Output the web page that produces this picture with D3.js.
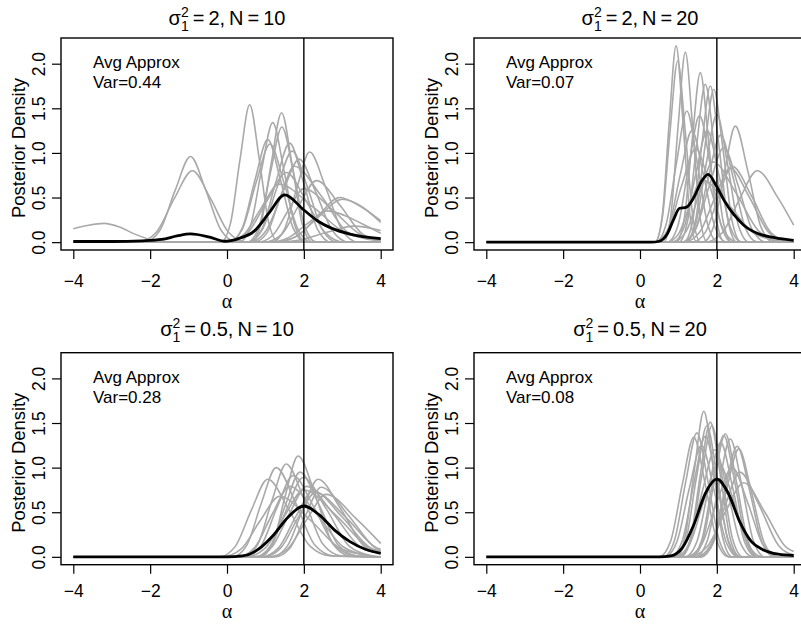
<!DOCTYPE html>
<html>
<head>
<meta charset="utf-8">
<script src="https://cdn.jsdelivr.net/npm/d3@7"></script>
<style>
  body { margin: 0; background: #fff; }
  svg { display: block; }
  text { font-family: "Liberation Sans", Arial, Helvetica, sans-serif; fill: #000; }
</style>
</head>
<body>
<div id="chart"></div>
<script>
// ---- data ----
const xTicks = [-4, -2, 0, 2, 4];
const yTicks = [0, 0.5, 1, 1.5, 2];
const trueAlpha = 2;

const panelSigma = ['2', '2', '0.5', '0.5'];
const panelN = ['10', '20', '10', '20'];
const avgVar = ['0.44', '0.07', '0.28', '0.08'];

// individual posterior approximations (gray), [alpha, density]
const grayCurvesA = [
  [[-4,0.15],[-3.6,0.19],[-3.2,0.21],[-2.8,0.17],[-2.4,0.09],[-2.0,0.03],[-1.6,0.005],[-1.2,0],[4,0]],
  [[-4,0],[-2.15,0],[-1.75,0.13],[-1.35,0.58],[-0.95,0.96],[-0.55,0.58],[-0.15,0.13],[0.25,0],[4,0]],
  [[-4,0],[-2.31,0],[-1.84,0.11],[-1.37,0.49],[-0.9,0.8],[-0.43,0.49],[0.04,0.11],[0.51,0],[4,0]],
  [[-4,0],[-0.16,0],[0.09,0.21],[0.34,0.93],[0.59,1.54],[0.84,0.93],[1.09,0.21],[1.34,0],[4,0]],
  [[-4,0],[0.07,0],[0.4,0.16],[0.73,0.7],[1.06,1.15],[1.39,0.7],[1.72,0.16],[2.05,0],[4,0]],
  [[-4,0],[0.04,0],[0.4,0.15],[0.76,0.67],[1.12,1.1],[1.48,0.67],[1.84,0.15],[2.2,0],[4,0]],
  [[-4,0],[0.32,0],[0.61,0.18],[0.9,0.81],[1.19,1.34],[1.48,0.81],[1.77,0.18],[2.06,0],[4,0]],
  [[-4,0],[0.61,0],[0.88,0.2],[1.15,0.88],[1.42,1.45],[1.69,0.88],[1.96,0.2],[2.23,0],[4,0]],
  [[-4,0],[0.53,0],[0.83,0.17],[1.13,0.78],[1.43,1.29],[1.73,0.78],[2.03,0.17],[2.33,0],[4,0]],
  [[-4,0],[0.55,0],[0.91,0.15],[1.27,0.67],[1.63,1.11],[1.99,0.67],[2.35,0.15],[2.71,0],[4,0]],
  [[-4,0],[0.53,0],[0.92,0.14],[1.31,0.62],[1.7,1.02],[2.09,0.62],[2.48,0.14],[2.87,0],[4,0]],
  [[-4,0],[0.59,0],[1.02,0.13],[1.45,0.56],[1.88,0.93],[2.31,0.56],[2.74,0.13],[3.17,0],[4,0]],
  [[-4,0],[0.05,0],[0.55,0.11],[1.05,0.47],[1.55,0.78],[2.05,0.47],[2.55,0.11],[3.05,0],[4,0]],
  [[-4,0],[1.16,0],[1.49,0.14],[1.82,0.61],[2.15,1.01],[2.57,0.61],[2.99,0.14],[3.41,0],[4,0]],
  [[-4,0],[0.98,0],[1.43,0.09],[1.88,0.42],[2.33,0.69],[2.93,0.42],[3.53,0.09],[4,0.02]],
  [[-4,0],[1.28,0],[1.83,0.07],[2.38,0.3],[2.93,0.5],[3.4,0.42],[4,0.24]],
  [[-4,0],[1.2,0],[1.8,0.065],[2.4,0.29],[3.0,0.48],[3.5,0.4],[4,0.22]],
  [[-4,0],[1.2,0],[1.9,0.025],[2.6,0.11],[3.3,0.18],[4,0.13]],
  [[-4,0],[0.7,0],[1.05,0.11],[1.4,0.52],[1.75,0.85],[2.45,0.52],[3.15,0.11],[4,0.01]],
  [[-4,0],[0,0],[0.45,0.09],[0.9,0.39],[1.35,0.65],[2.25,0.39],[3.15,0.09],[4,0.03]],
  [[-4,0],[0.8,0],[1.2,0.08],[1.6,0.36],[2.0,0.6],[2.75,0.36],[3.5,0.08],[4,0.03]],
  [[-4,0],[1.1,0],[1.6,0.05],[2.1,0.21],[2.6,0.35],[3.5,0.21],[4,0.1]]
];
const avgCurveA = [[-4,0.007],[-3,0.007],[-2.2,0.015],[-1.7,0.03],[-1.3,0.07],[-0.95,0.093],[-0.45,0.056],
  [-0.05,0.01],[0.3,0.04],[0.7,0.12],[1.1,0.33],[1.5,0.53],[2,0.36],[2.35,0.24],[2.7,0.16],[3.2,0.09],[4,0.04]];

const grayCurvesB = [
  [[-4,0],[0.4,0],[0.58,0.3],[0.76,1.34],[0.94,2.2],[1.12,1.34],[1.3,0.3],[1.48,0],[4,0]],
  [[-4,0],[0.38,0],[0.58,0.27],[0.78,1.23],[0.98,2.03],[1.18,1.23],[1.38,0.27],[1.58,0],[4,0]],
  [[-4,0],[0.61,0],[0.8,0.29],[0.99,1.29],[1.18,2.13],[1.37,1.29],[1.56,0.29],[1.75,0],[4,0]],
  [[-4,0],[0.94,0],[1.15,0.26],[1.36,1.15],[1.57,1.9],[1.78,1.15],[1.99,0.26],[2.2,0],[4,0]],
  [[-4,0],[1.01,0],[1.24,0.24],[1.47,1.07],[1.7,1.77],[1.93,1.07],[2.16,0.24],[2.39,0],[4,0]],
  [[-4,0],[1.14,0],[1.37,0.24],[1.6,1.06],[1.83,1.75],[2.06,1.06],[2.29,0.24],[2.52,0],[4,0]],
  [[-4,0],[1.2,0],[1.44,0.23],[1.68,1.04],[1.92,1.71],[2.16,1.04],[2.4,0.23],[2.64,0],[4,0]],
  [[-4,0],[0.41,0],[0.68,0.2],[0.95,0.89],[1.22,1.47],[1.49,0.89],[1.76,0.2],[2.03,0],[4,0]],
  [[-4,0],[0.71,0],[0.99,0.19],[1.27,0.86],[1.55,1.42],[1.83,0.86],[2.11,0.19],[2.39,0],[4,0]],
  [[-4,0],[1.16,0],[1.44,0.19],[1.72,0.87],[2.0,1.43],[2.28,0.87],[2.56,0.19],[2.84,0],[4,0]],
  [[-4,0],[1.64,0],[1.92,0.18],[2.2,0.79],[2.48,1.3],[2.81,0.79],[3.14,0.18],[3.47,0],[4,0]],
  [[-4,0],[1.7,0],[2.15,0.11],[2.6,0.49],[3.05,0.8],[3.6,0.49],[4,0.19]],
  [[-4,0],[1.07,0],[1.44,0.14],[1.81,0.64],[2.18,1.06],[2.55,0.64],[2.92,0.14],[3.29,0],[4,0]],
  [[-4,0],[1.15,0],[1.55,0.11],[1.95,0.5],[2.35,0.83],[2.85,0.5],[3.35,0.11],[3.85,0],[4,0]],
  [[-4,0],[0.45,0],[0.75,0.17],[1.05,0.76],[1.35,1.25],[1.65,0.76],[1.95,0.17],[2.25,0],[4,0]],
  [[-4,0],[0.85,0],[1.15,0.17],[1.45,0.76],[1.75,1.25],[2.05,0.76],[2.35,0.17],[2.65,0],[4,0]],
  [[-4,0],[0.37,0],[0.73,0.14],[1.09,0.64],[1.45,1.05],[1.81,0.64],[2.17,0.14],[2.53,0],[4,0]],
  [[-4,0],[1.14,0],[1.46,0.16],[1.78,0.73],[2.1,1.2],[2.42,0.73],[2.74,0.16],[3.06,0],[4,0]],
  [[-4,0],[0.85,0],[1.2,0.12],[1.55,0.55],[1.9,0.9],[2.5,0.55],[3.1,0.12],[3.7,0],[4,0]],
  [[-4,0],[1.35,0],[1.7,0.11],[2.05,0.52],[2.4,0.85],[2.9,0.52],[3.4,0.11],[3.9,0],[4,0]],
  [[-4,0],[0.7,0],[1.0,0.09],[1.3,0.42],[1.6,0.7],[2.3,0.42],[3.0,0.09],[3.7,0.01],[4,0]]
];
const avgCurveB = [[-4,0],[0.3,0],[0.5,0.01],[0.7,0.085],[0.87,0.25],[1.03,0.38],[1.2,0.39],[1.4,0.5],
  [1.6,0.68],[1.77,0.76],[2.0,0.62],[2.2,0.46],[2.44,0.31],[2.7,0.19],[3.05,0.1],[3.5,0.05],[4,0.02]];

const grayCurvesC = [
  [[-4,0],[-0.2,0],[0.22,0.12],[0.64,0.53],[1.06,0.87],[1.61,0.53],[2.16,0.12],[2.71,0.01],[4,0]],
  [[-4,0],[0.14,0],[0.52,0.135],[0.9,0.61],[1.28,1.0],[1.78,0.61],[2.28,0.135],[2.78,0.01],[4,0]],
  [[-4,0],[0.43,0],[0.8,0.14],[1.17,0.63],[1.54,1.04],[2.02,0.63],[2.5,0.14],[2.98,0.01],[4,0]],
  [[-4,0],[0.86,0],[1.19,0.15],[1.52,0.69],[1.85,1.13],[2.3,0.69],[2.75,0.15],[3.2,0.01],[4,0]],
  [[-4,0],[0.46,0],[0.88,0.12],[1.3,0.55],[1.72,0.91],[2.27,0.55],[2.82,0.12],[3.37,0.01],[4,0]],
  [[-4,0],[0.72,0],[1.14,0.12],[1.56,0.54],[1.98,0.89],[2.58,0.54],[3.18,0.12],[3.78,0.01],[4,0]],
  [[-4,0],[1.17,0],[1.57,0.12],[1.97,0.53],[2.37,0.87],[2.97,0.53],[3.57,0.12],[4,0.04]],
  [[-4,0],[0.72,0],[1.17,0.11],[1.62,0.48],[2.07,0.79],[2.77,0.48],[3.47,0.11],[4,0.04]],
  [[-4,0],[0.89,0],[1.34,0.1],[1.79,0.45],[2.24,0.74],[2.99,0.45],[3.74,0.1],[4,0.06]],
  [[-4,0],[1.08,0],[1.58,0.09],[2.08,0.42],[2.58,0.7],[3.38,0.42],[4,0.15]],
  [[-4,0],[0.28,0],[0.73,0.11],[1.18,0.48],[1.63,0.79],[2.33,0.48],[3.03,0.11],[3.73,0.01],[4,0]],
  [[-4,0],[-0.13,0],[0.37,0.09],[0.87,0.41],[1.37,0.68],[2.17,0.41],[2.97,0.09],[3.77,0.01],[4,0]],
  [[-4,0],[0.95,0],[1.4,0.1],[1.85,0.44],[2.3,0.72],[3.1,0.44],[3.9,0.1],[4,0.085]],
  [[-4,0],[0.5,0],[1.0,0.1],[1.5,0.46],[2.0,0.75],[2.85,0.46],[3.7,0.1],[4,0.05]],
  [[-4,0],[1.25,0],[1.65,0.105],[2.05,0.47],[2.45,0.78],[3.15,0.47],[3.85,0.105],[4,0.07]],
  [[-4,0],[0.76,0],[1.14,0.13],[1.52,0.58],[1.9,0.95],[2.4,0.58],[2.9,0.13],[3.4,0.01],[4,0]]
];
const avgCurveC = [[-4,0],[0,0],[0.4,0.01],[0.8,0.08],[1.2,0.24],[1.6,0.45],[2.0,0.57],[2.4,0.47],
  [2.8,0.3],[3.2,0.17],[3.6,0.085],[4,0.04]];

const grayCurvesD = [
  [[-4,0],[0.93,0],[1.17,0.22],[1.42,0.99],[1.66,1.63],[1.91,0.99],[2.15,0.22],[2.4,0],[4,0]],
  [[-4,0],[1.05,0],[1.31,0.2],[1.57,0.92],[1.83,1.51],[2.09,0.92],[2.35,0.2],[2.61,0],[4,0]],
  [[-4,0],[0.93,0],[1.2,0.2],[1.47,0.89],[1.74,1.47],[2.01,0.89],[2.28,0.2],[2.55,0],[4,0]],
  [[-4,0],[1.06,0],[1.33,0.2],[1.6,0.89],[1.87,1.47],[2.14,0.89],[2.41,0.2],[2.68,0],[4,0]],
  [[-4,0],[0.61,0],[0.9,0.19],[1.19,0.84],[1.48,1.39],[1.77,0.84],[2.06,0.19],[2.35,0],[4,0]],
  [[-4,0],[0.5,0],[0.8,0.18],[1.1,0.81],[1.4,1.34],[1.7,0.81],[2.0,0.18],[2.3,0],[4,0]],
  [[-4,0],[1.31,0],[1.6,0.18],[1.89,0.83],[2.18,1.36],[2.47,0.83],[2.76,0.18],[3.05,0],[4,0]],
  [[-4,0],[1.35,0],[1.64,0.19],[1.93,0.84],[2.22,1.38],[2.51,0.84],[2.8,0.19],[3.09,0],[4,0]],
  [[-4,0],[1.45,0],[1.75,0.18],[2.05,0.8],[2.35,1.32],[2.65,0.8],[2.95,0.18],[3.25,0],[4,0]],
  [[-4,0],[1.57,0],[1.89,0.17],[2.21,0.75],[2.53,1.24],[2.85,0.75],[3.17,0.17],[3.49,0],[4,0]],
  [[-4,0],[1.58,0],[1.91,0.16],[2.24,0.73],[2.57,1.21],[2.9,0.73],[3.23,0.16],[3.56,0],[4,0]],
  [[-4,0],[1.26,0],[1.74,0.11],[2.22,0.5],[2.7,0.83],[3.25,0.5],[3.8,0.11],[4,0.06]],
  [[-4,0],[0.96,0],[1.29,0.16],[1.62,0.73],[1.95,1.2],[2.28,0.73],[2.61,0.16],[2.94,0],[4,0]],
  [[-4,0],[0.8,0],[1.1,0.18],[1.4,0.82],[1.7,1.35],[2.0,0.82],[2.3,0.18],[2.6,0],[4,0]],
  [[-4,0],[0.91,0],[1.29,0.14],[1.67,0.64],[2.05,1.05],[2.43,0.64],[2.81,0.14],[3.19,0],[4,0]],
  [[-4,0],[1.2,0],[1.6,0.135],[2.0,0.61],[2.4,1.0],[2.8,0.61],[3.2,0.135],[3.6,0],[4,0]],
  [[-4,0],[0.64,0],[0.96,0.17],[1.28,0.76],[1.6,1.25],[1.92,0.76],[2.24,0.17],[2.56,0],[4,0]],
  [[-4,0],[1.17,0],[1.48,0.17],[1.79,0.78],[2.1,1.28],[2.41,0.78],[2.72,0.17],[3.03,0],[4,0]],
  [[-4,0],[1.46,0],[1.84,0.13],[2.22,0.58],[2.6,0.95],[3.1,0.58],[3.6,0.13],[4,0.02]]
];
const avgCurveD = [[-4,0],[0.5,0],[0.8,0.01],[1.1,0.1],[1.4,0.36],[1.7,0.71],[2.0,0.87],[2.3,0.71],
  [2.6,0.39],[2.9,0.17],[3.2,0.08],[3.6,0.03],[4,0.015]];

// ---- layout ----
const svg = d3.select('#chart').append('svg')
    .attr('width', 801)
    .attr('height', 627);

const boxW = 332, boxH = 212;
// the lower row sits a little tighter against its labels
const panels = [
    { left: 61,  top: 38,    gray: grayCurvesA, avg: avgCurveA, titleY: -13, tickY: 37, labY: 58 },
    { left: 474, top: 38,    gray: grayCurvesB, avg: avgCurveB, titleY: -13, tickY: 37, labY: 58 },
    { left: 61,  top: 352.7, gray: grayCurvesC, avg: avgCurveC, titleY: -17, tickY: 32, labY: 53 },
    { left: 474, top: 352.7, gray: grayCurvesD, avg: avgCurveD, titleY: -17, tickY: 32, labY: 53 }
];

panels.forEach((p, i) => renderPanel(p, i));

function renderPanel(p, i) {
    const g = svg.append('g').attr('transform', `translate(${p.left},${p.top})`);

    // R style 4% padding on both axes
    const x = d3.scaleLinear().domain([-4.32, 4.32]).range([0, boxW]);
    const y = d3.scaleLinear().domain([-0.088, 2.288]).range([boxH, 0]);

    const line = d3.line()
        .x(d => x(d[0]))
        .y(d => y(d[1]))
        .curve(d3.curveMonotoneX);

    // gray posterior curves
    g.append('g').selectAll('path')
        .data(p.gray)
        .enter()
        .append('path')
        .attr('d', line)
        .attr('fill', 'none')
        .attr('stroke', '#a9a9a9')
        .attr('stroke-width', 1.6);

    // average approximation
    g.append('path')
        .attr('d', line(p.avg))
        .attr('fill', 'none')
        .attr('stroke', '#000')
        .attr('stroke-width', 2.8);

    // true value
    g.append('line')
        .attr('x1', x(trueAlpha)).attr('x2', x(trueAlpha))
        .attr('y1', 0).attr('y2', boxH)
        .attr('stroke', '#000')
        .attr('stroke-width', 1.4);

    // box
    g.append('rect')
        .attr('width', boxW).attr('height', boxH)
        .attr('fill', 'none')
        .attr('stroke', '#000')
        .attr('stroke-width', 1.4);

    // x axis
    const xa = g.append('g')
        .attr('transform', `translate(0,${boxH})`)
        .call(d3.axisBottom(x).tickValues(xTicks).tickSize(9));
    xa.select('.domain').remove();
    xa.selectAll('line').attr('stroke-width', 1.2);
    xa.selectAll('text')
        .attr('y', p.tickY).attr('dy', 0)
        .style('font-size', '17.5px')
        .style('font-family', '"Liberation Sans", Arial, sans-serif');

    // y axis, labels parallel to the axis
    const ya = g.append('g')
        .call(d3.axisLeft(y).tickValues(yTicks).tickSize(9).tickFormat(d3.format('.1f')));
    ya.select('.domain').remove();
    ya.selectAll('line').attr('stroke-width', 1.2);
    ya.selectAll('text')
        .attr('x', 0).attr('dy', 0)
        .attr('text-anchor', 'middle')
        .attr('transform', 'translate(-16,0) rotate(-90)')
        .style('font-size', '17.5px')
        .style('font-family', '"Liberation Sans", Arial, sans-serif');

    // axis titles
    g.append('text')
        .attr('transform', `translate(-36,${boxH / 2 + 4}) rotate(-90)`)
        .attr('text-anchor', 'middle')
        .style('font-size', '18.4px')
        .text('Posterior Density');

    g.append('text')
        .attr('x', boxW / 2)
        .attr('y', boxH + p.labY)
        .attr('text-anchor', 'middle')
        .style('font-family', '"Liberation Serif", serif')
        .style('font-size', '20px')
        .text('α');

    // panel title: sigma_1^2 = s, N = n
    const t = g.append('text')
        .attr('x', boxW / 2)
        .attr('y', p.titleY)
        .attr('text-anchor', 'middle')
        .style('font-size', '20px');
    t.append('tspan').text('σ');
    t.append('tspan').attr('dy', -8).style('font-size', '14px').text('2');
    t.append('tspan').attr('dx', -7.8).attr('dy', 14).style('font-size', '14px').text('1');
    t.append('tspan').attr('dy', -6).text(`\u2009=\u2009${panelSigma[i]},\u2009N\u2009=\u2009${panelN[i]}`);

    // legend text
    g.append('text')
        .attr('x', 32).attr('y', 30)
        .style('font-size', '17px')
        .text('Avg Approx');
    g.append('text')
        .attr('x', 32).attr('y', 50)
        .style('font-size', '17px')
        .text(`Var=${avgVar[i]}`);
}
</script>
</body>
</html>
